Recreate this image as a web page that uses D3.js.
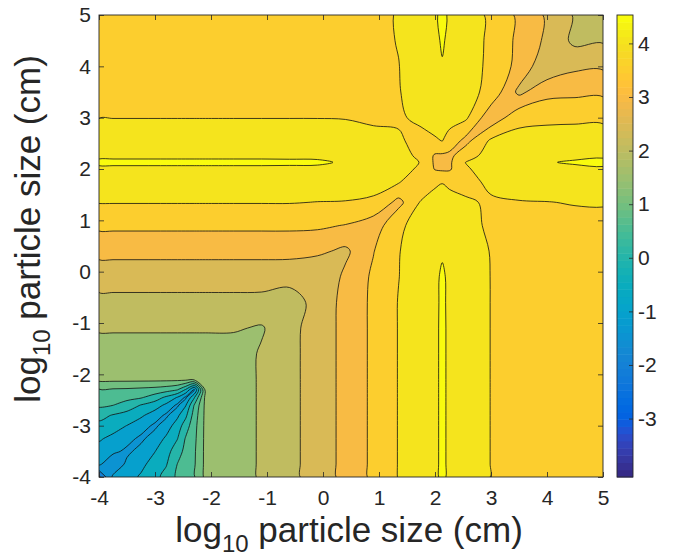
<!DOCTYPE html>
<html>
<head>
<meta charset="utf-8">
<script src="https://cdn.jsdelivr.net/npm/d3@7"></script>
<style>
  body { margin: 0; background: #fff; }
  text { font-family: "Liberation Sans", Arial, Helvetica, sans-serif; fill: #262626; }
</style>
</head>
<body>
<svg id="chart" width="678" height="557"></svg>
<script>
// Grid node positions, log10 particle size (cm); the same nodes are used on both axes.
const sizeNodes = [-4, -3.75, -3.5, -3.25, -3, -2.8, -2.6, -2.45, -2.3, -2.1, -1.6, -1.1, -0.6,
                   -0.1, 0.4, 0.9, 1.35, 1.75, 2.0, 2.13, 2.26, 2.55, 3.0, 3.5, 4.0, 4.5, 5.0];

// Field values, lower triangle: zLower[i][j] is the value at size_x = sizeNodes[i],
// size_y = sizeNodes[j] (j <= i). The field is symmetric in the two sizes.
const zLower = [
  [-2.1],
  [-0.91, -1.4],
  [-0.70, -0.89, -1.1],
  [-0.44, -0.62, -0.845, -1.1],
  [-0.15, -0.30, -0.51, -0.77, -1.1],
  [0.17, -0.04, -0.19, -0.42, -0.745, -1.1],
  [0.59, 0.51, 0.28, -0.02, -0.27, -0.60, -1.1],
  [0.78, 0.73, 0.65, 0.55, 0.26, -0.1, -0.53, -1.1],
  [0.96, 0.94, 0.92, 0.87, 0.81, 0.71, 0.52, -0.06, -1.1],
  [1.62, 1.62, 1.62, 1.62, 1.62, 1.62, 1.62, 1.62, 1.62, 1.6],
  [1.78, 1.78, 1.78, 1.78, 1.78, 1.78, 1.78, 1.78, 1.78, 1.78, 1.76],
  [2.05, 2.05, 2.05, 2.05, 2.05, 2.05, 2.05, 2.05, 2.05, 2.05, 2.05, 1.95],
  [2.36, 2.36, 2.36, 2.36, 2.36, 2.36, 2.36, 2.36, 2.36, 2.36, 2.36, 2.35, 2.22],
  [2.72, 2.72, 2.72, 2.72, 2.72, 2.72, 2.72, 2.72, 2.72, 2.72, 2.72, 2.72, 2.7, 2.55],
  [3.14, 3.14, 3.14, 3.14, 3.14, 3.14, 3.14, 3.14, 3.14, 3.14, 3.14, 3.14, 3.14, 3.1, 2.9],
  [3.6, 3.6, 3.6, 3.6, 3.6, 3.6, 3.6, 3.6, 3.6, 3.6, 3.6, 3.6, 3.6, 3.58, 3.48, 3.2],
  [4.02, 4.02, 4.02, 4.02, 4.02, 4.02, 4.02, 4.02, 4.02, 4.02, 4.02, 4.02, 4.02, 3.99, 3.98, 3.93, 3.35],
  [4.32, 4.32, 4.32, 4.32, 4.32, 4.32, 4.32, 4.32, 4.32, 4.32, 4.32, 4.32, 4.31, 4.29, 4.24, 4.15, 4.05, 3.53],
  [4.47, 4.47, 4.47, 4.47, 4.47, 4.47, 4.47, 4.47, 4.47, 4.47, 4.47, 4.47, 4.465, 4.465, 4.4, 4.25, 4.17, 3.92, 3.47],
  [4.53, 4.53, 4.53, 4.53, 4.53, 4.53, 4.53, 4.53, 4.53, 4.53, 4.53, 4.53, 4.53, 4.525, 4.48, 4.32, 4.2, 3.98, 3.42, 3.3],
  [4.47, 4.47, 4.47, 4.47, 4.47, 4.47, 4.47, 4.47, 4.47, 4.47, 4.47, 4.47, 4.465, 4.465, 4.41, 4.27, 4.17, 3.9, 3.44, 3.42, 3.38],
  [4.28, 4.28, 4.28, 4.28, 4.28, 4.28, 4.28, 4.28, 4.28, 4.28, 4.28, 4.28, 4.28, 4.27, 4.24, 4.15, 4.06, 3.85, 3.95, 4.01, 3.8, 3.35],
  [3.99, 3.99, 3.99, 3.99, 3.99, 3.99, 3.99, 3.99, 3.99, 3.99, 3.99, 3.99, 3.99, 3.99, 3.98, 3.92, 3.94, 4.1, 4.2, 4.23, 4.2, 4.08, 3.15],
  [3.8, 3.8, 3.8, 3.8, 3.8, 3.8, 3.8, 3.8, 3.8, 3.8, 3.8, 3.8, 3.8, 3.81, 3.83, 3.88, 3.98, 4.18, 4.36, 4.42, 4.36, 4.18, 3.85, 2.88],
  [3.72, 3.72, 3.72, 3.72, 3.72, 3.72, 3.72, 3.72, 3.72, 3.72, 3.72, 3.72, 3.73, 3.75, 3.79, 3.86, 3.99, 4.25, 4.46, 4.497, 4.46, 4.25, 3.88, 3.35, 2.62],
  [3.67, 3.67, 3.67, 3.67, 3.67, 3.67, 3.67, 3.67, 3.67, 3.67, 3.67, 3.67, 3.69, 3.72, 3.78, 3.88, 4.02, 4.28, 4.49, 4.505, 4.49, 4.28, 3.89, 3.39, 2.9, 2.38],
  [3.64, 3.64, 3.64, 3.64, 3.65, 3.65, 3.65, 3.66, 3.66, 3.66, 3.67, 3.69, 3.72, 3.76, 3.83, 3.92, 4.02, 4.3, 4.494, 4.51, 4.494, 4.3, 3.89, 3.41, 2.93, 2.45, 2.22]
];

const contourLevels = [-4, -3.5, -3, -2.5, -2, -1.5, -1, -0.5, 0, 0.5, 1, 1.5, 2, 2.5, 3, 3.5, 4, 4.5];
const colorLimits = [-4.09, 4.53];
const xTicks = [-4, -3, -2, -1, 0, 1, 2, 3, 4, 5];
const yTicks = [-4, -3, -2, -1, 0, 1, 2, 3, 4, 5];
const colorbarTicks = [-3, -2, -1, 0, 1, 2, 3, 4];

// parula colormap, 64 entries
const parula = [
  [0.2081,0.1663,0.5292],[0.2116,0.1898,0.5777],[0.2123,0.2138,0.6270],[0.2081,0.2386,0.6771],
  [0.1959,0.2645,0.7279],[0.1707,0.2919,0.7792],[0.1253,0.3242,0.8303],[0.0591,0.3598,0.8683],
  [0.0117,0.3875,0.8820],[0.0060,0.4086,0.8828],[0.0165,0.4266,0.8786],[0.0329,0.4430,0.8720],
  [0.0498,0.4586,0.8641],[0.0629,0.4737,0.8554],[0.0723,0.4887,0.8467],[0.0779,0.5040,0.8384],
  [0.0793,0.5200,0.8312],[0.0749,0.5375,0.8263],[0.0641,0.5570,0.8240],[0.0488,0.5772,0.8228],
  [0.0343,0.5966,0.8199],[0.0265,0.6137,0.8135],[0.0239,0.6287,0.8038],[0.0231,0.6418,0.7913],
  [0.0228,0.6535,0.7768],[0.0267,0.6642,0.7607],[0.0384,0.6743,0.7436],[0.0590,0.6838,0.7254],
  [0.0843,0.6928,0.7062],[0.1133,0.7015,0.6859],[0.1453,0.7098,0.6646],[0.1801,0.7177,0.6424],
  [0.2178,0.7250,0.6193],[0.2586,0.7317,0.5954],[0.3022,0.7376,0.5712],[0.3482,0.7424,0.5473],
  [0.3953,0.7459,0.5244],[0.4420,0.7481,0.5033],[0.4871,0.7491,0.4840],[0.5300,0.7491,0.4661],
  [0.5709,0.7485,0.4494],[0.6099,0.7473,0.4337],[0.6473,0.7456,0.4188],[0.6834,0.7435,0.4044],
  [0.7184,0.7411,0.3905],[0.7525,0.7384,0.3768],[0.7858,0.7356,0.3633],[0.8185,0.7327,0.3498],
  [0.8507,0.7299,0.3360],[0.8824,0.7274,0.3217],[0.9139,0.7258,0.3063],[0.9450,0.7261,0.2886],
  [0.9739,0.7314,0.2666],[0.9938,0.7455,0.2403],[0.9990,0.7653,0.2164],[0.9955,0.7861,0.1967],
  [0.9880,0.8066,0.1794],[0.9789,0.8271,0.1633],[0.9697,0.8481,0.1475],[0.9626,0.8705,0.1309],
  [0.9589,0.8949,0.1132],[0.9598,0.9218,0.0948],[0.9661,0.9514,0.0755],[0.9763,0.9831,0.0538]
].map(c => d3.rgb(c[0] * 255, c[1] * 255, c[2] * 255).formatHex());

// discrete colormap lookup, as a filled contour uses it
const colorIndex = d3.scaleQuantize().domain(colorLimits).range(d3.range(parula.length));
const colorOf = v => parula[colorIndex(Math.max(colorLimits[0], Math.min(colorLimits[1], v)))];

const plot = { left: 99, right: 603, top: 15, bottom: 477 };
const cbar = { left: 617, right: 633 };
const axisColor = "#262626";

const svg = d3.select("#chart");
const x = d3.scaleLinear().domain([-4, 5]).range([plot.left, plot.right]);
const y = d3.scaleLinear().domain([-4, 5]).range([plot.bottom, plot.top]);

// full symmetric grid, row j = y node, column i = x node
const n = sizeNodes.length;
const grid = new Array(n * n);
for (let j = 0; j < n; j++) {
  for (let i = 0; i < n; i++) {
    grid[j * n + i] = i >= j ? zLower[i][j] : zLower[j][i];
  }
}

// grid index -> size (piecewise linear over the nodes), then -> pixels
const nodeAt = d3.scaleLinear().domain(d3.range(n)).range(sizeNodes);
const toPx = p => [x(nodeAt(p[0] - 0.5)), y(nodeAt(p[1] - 0.5))];
const ringLine = d3.line().curve(d3.curveCatmullRomClosed.alpha(0.5));
const bandPath = mp => mp.coordinates
  .map(poly => poly.map(ring => ringLine(ring.slice(0, -1).map(toPx))).join(""))
  .join("");

const bands = d3.contours().size([n, n]).thresholds(contourLevels)(grid);

svg.append("clipPath").attr("id", "plot-clip")
  .append("rect")
  .attr("x", plot.left).attr("y", plot.top)
  .attr("width", plot.right - plot.left).attr("height", plot.bottom - plot.top);

const field = svg.append("g").attr("clip-path", "url(#plot-clip)");
field.append("rect")
  .attr("x", plot.left).attr("y", plot.top)
  .attr("width", plot.right - plot.left).attr("height", plot.bottom - plot.top)
  .attr("fill", colorOf(colorLimits[0]));

field.selectAll("path.band").data(bands).join("path")
  .attr("class", "band")
  .attr("d", bandPath)
  .attr("fill", d => colorOf(d.value))
  .attr("stroke", "none");

field.selectAll("path.iso").data(bands).join("path")
  .attr("class", "iso")
  .attr("d", bandPath)
  .attr("fill", "none")
  .attr("stroke", "#111")
  .attr("stroke-width", 0.8)
  .attr("stroke-linejoin", "round");

// axes: ticks point inward on all four sides
function styleAxis(g) {
  g.select(".domain").remove();
  g.selectAll(".tick line").attr("stroke", axisColor).attr("stroke-width", 0.8);
  g.selectAll(".tick text").attr("fill", axisColor).style("font-size", "21px")
    .style("font-family", '"Liberation Sans", Arial, Helvetica, sans-serif');
}
const fmt = d => String(d);

svg.append("g").attr("transform", `translate(0,${plot.bottom})`)
  .call(d3.axisBottom(x).tickValues(xTicks).tickSize(-5).tickPadding(13).tickFormat(fmt))
  .call(styleAxis);
svg.append("g").attr("transform", `translate(0,${plot.top})`)
  .call(d3.axisTop(x).tickValues(xTicks).tickSize(-5).tickFormat(""))
  .call(styleAxis);
svg.append("g").attr("transform", `translate(${plot.left},0)`)
  .call(d3.axisLeft(y).tickValues(yTicks).tickSize(-5).tickPadding(8).tickFormat(fmt))
  .call(styleAxis);
svg.append("g").attr("transform", `translate(${plot.right},0)`)
  .call(d3.axisRight(y).tickValues(yTicks).tickSize(-5).tickFormat(""))
  .call(styleAxis);

svg.append("rect")
  .attr("x", plot.left).attr("y", plot.top)
  .attr("width", plot.right - plot.left).attr("height", plot.bottom - plot.top)
  .attr("fill", "none").attr("stroke", axisColor).attr("stroke-width", 0.9);

// colorbar
const cb = d3.scaleLinear().domain(colorLimits).range([plot.bottom, plot.top]);
const step = (colorLimits[1] - colorLimits[0]) / parula.length;
svg.append("g").selectAll("rect").data(parula).join("rect")
  .attr("x", cbar.left)
  .attr("width", cbar.right - cbar.left)
  .attr("y", (c, k) => cb(colorLimits[0] + (k + 1) * step))
  .attr("height", (c, k) => cb(colorLimits[0] + k * step) - cb(colorLimits[0] + (k + 1) * step) + 0.5)
  .attr("fill", c => c);

svg.append("g").attr("transform", `translate(${cbar.right},0)`)
  .call(d3.axisRight(cb).tickValues(colorbarTicks).tickSize(-4).tickPadding(5).tickFormat(fmt))
  .call(styleAxis);
svg.append("rect")
  .attr("x", cbar.left).attr("y", plot.top)
  .attr("width", cbar.right - cbar.left).attr("height", plot.bottom - plot.top)
  .attr("fill", "none").attr("stroke", axisColor).attr("stroke-width", 0.9);

// axis titles
function title(sel) {
  sel.style("font-size", "35px").attr("text-anchor", "middle").attr("fill", axisColor);
  sel.append("tspan").text("log");
  sel.append("tspan").attr("dy", 10).style("font-size", "24px").text("10");
  sel.append("tspan").attr("dy", -10).text(" particle size (cm)");
}
svg.append("text").attr("x", 349).attr("y", 542).call(title);
svg.append("text").attr("transform", "translate(40,229) rotate(-90)").call(title);
</script>
</body>
</html>
